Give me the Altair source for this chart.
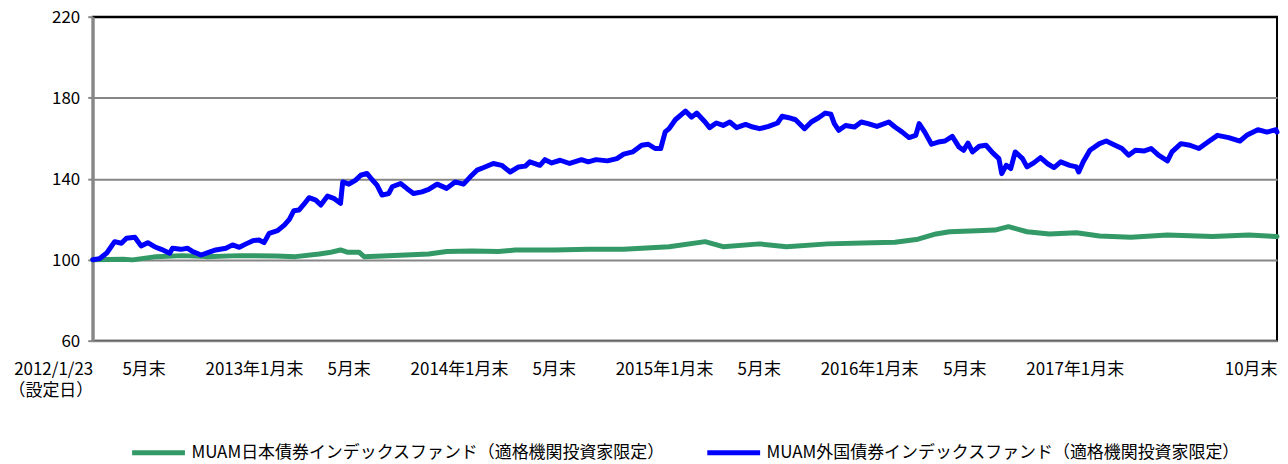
import json
import altair as alt
import pandas as pd

START = "2012-01-23"

# days since launch (2012/1/23) and index values
blue_days = [0, 12, 25, 39, 51, 60, 75, 86, 98, 110, 122, 137, 142, 157, 169, 178, 193, 205, 219, 237,
             249, 261, 273, 285, 296, 305, 314, 329, 341, 350, 358, 367, 376, 385, 397, 406, 418, 429, 441, 445,
             456, 468, 477, 488, 497, 506, 515, 527, 533, 548, 559, 571, 586, 598, 613, 630, 645, 660, 672, 684,
             696, 713, 728, 743, 758, 770, 778, 796, 805, 817, 832, 849, 870, 882, 896, 916, 933, 945, 961, 977,
             989, 1001, 1011, 1019, 1026, 1037, 1055, 1066, 1075, 1090, 1098, 1110, 1122, 1134, 1146, 1162, 1175, 1187, 1203, 1219,
             1227, 1239, 1251, 1267, 1279, 1292, 1304, 1314, 1320, 1328, 1340, 1356, 1368, 1380, 1396, 1417, 1428, 1441, 1453, 1465,
             1471, 1481, 1493, 1505, 1517, 1530, 1542, 1550, 1558, 1566, 1578, 1590, 1602, 1613, 1618, 1626, 1634, 1642, 1655, 1663,
             1675, 1687, 1699, 1711, 1723, 1739, 1751, 1755, 1763, 1775, 1792, 1804, 1816, 1832, 1844, 1856, 1872, 1884, 1897, 1913,
             1921, 1937, 1953, 1969, 1985, 2002, 2022, 2042, 2054, 2074, 2090, 2106, 2108]
blue_vals = [100.0, 100.5, 103.3, 108.9, 108.1, 110.6, 111.1, 106.8, 108.4, 106.4, 105.1, 103.2, 105.6, 105.1, 105.6, 104.0, 102.3, 103.5, 104.8, 105.6,
             107.3, 106.1, 107.8, 109.4, 109.7, 108.4, 113.0, 114.3, 117.1, 119.9, 124.2, 124.5, 127.4, 130.6, 129.4, 127.0, 131.4, 130.3, 127.8, 138.4,
             137.3, 139.3, 141.7, 142.6, 139.6, 136.8, 131.9, 132.7, 136.0, 137.6, 135.2, 132.7, 133.5, 134.7, 137.3, 135.2, 138.4, 137.3, 140.9, 144.2,
             145.5, 147.5, 146.6, 143.3, 145.8, 146.2, 148.3, 146.6, 149.4, 147.8, 149.1, 147.5, 149.4, 148.3, 149.4, 148.8, 149.9, 152.1, 153.2, 156.5,
             157.0, 154.9, 154.9, 163.1, 164.7, 169.1, 173.4, 170.4, 172.4, 168.0, 165.2, 167.5, 166.3, 168.0, 165.2, 166.8, 165.5, 164.7, 165.8, 167.5,
             170.8, 170.1, 169.1, 164.7, 168.0, 170.1, 172.4, 171.8, 167.2, 163.9, 166.3, 165.5, 168.0, 167.2, 165.8, 168.0, 165.5, 163.0, 160.3, 161.4,
             167.2, 163.0, 157.0, 158.1, 158.6, 160.9, 155.6, 154.0, 157.6, 153.2, 156.0, 156.5, 152.7, 149.9, 142.5, 146.6, 145.0, 153.2, 149.9, 145.8,
             147.8, 150.4, 147.5, 145.5, 148.3, 146.6, 145.8, 143.3, 148.3, 154.0, 157.3, 158.6, 157.0, 154.9, 151.6, 154.0, 153.7, 154.9, 151.6, 148.8,
             153.2, 157.3, 156.5, 154.9, 158.1, 161.4, 160.3, 158.6, 161.4, 164.2, 163.0, 164.2, 163.0]

green_days = [0, 54, 71, 113, 160, 202, 261, 326, 361, 403, 421, 441, 453, 474, 483, 515, 557, 598, 630, 675,
              722, 752, 823, 882, 945, 1026, 1090, 1122, 1187, 1235, 1308, 1388, 1428, 1469, 1501, 1525, 1574, 1606, 1630, 1663,
              1703, 1751, 1792, 1848, 1913, 1993, 2058, 2106, 2108]
green_vals = [100.0, 100.2, 99.9, 101.5, 102.0, 101.5, 102.0, 101.8, 101.5, 102.8, 103.5, 104.8, 103.7, 103.7, 101.5, 101.8, 102.3, 102.8, 104.0, 104.3,
              104.0, 104.8, 104.8, 105.1, 105.1, 106.4, 108.9, 106.4, 107.8, 106.4, 107.8, 108.4, 108.6, 110.1, 112.7, 113.8, 114.3, 114.6, 116.3, 113.8,
              112.7, 113.3, 111.7, 111.1, 112.2, 111.4, 112.2, 111.4, 111.4]

series_names = ["MUAM日本債券インデックスファンド（適格機関投資家限定）",
                "MUAM外国債券インデックスファンド（適格機関投資家限定）"]
series_colors = ["#339966", "#0000FF"]

tick_dates = [(2012, 1, 23), (2012, 5, 31), (2013, 1, 31), (2013, 5, 31), (2014, 1, 31), (2014, 5, 31),
              (2015, 1, 31), (2015, 5, 31), (2016, 1, 31), (2016, 5, 31), (2017, 1, 31), (2017, 10, 31)]
tick_labels = [["2012/1/23", "（設定日）"], "5月末", "2013年1月末", "5月末", "2014年1月末", "5月末",
               "2015年1月末", "5月末", "2016年1月末", "5月末", "2017年1月末", "10月末"]
y_ticks = [60, 100, 140, 180, 220]

start = pd.Timestamp(START)
frames = []
for name, days, vals in [(series_names[0], green_days, green_vals), (series_names[1], blue_days, blue_vals)]:
    d = start + pd.to_timedelta(days, unit="D")
    frames.append(pd.DataFrame({"date": d.strftime("%Y-%m-%dT00:00:00"), "value": vals, "series": name}))
df = pd.concat(frames, ignore_index=True)

FONT = "Noto Sans CJK JP"
GREY = "#868686"

label_map = {f"{y:04d}-{m:02d}-{d:02d}": lab for (y, m, d), lab in zip(tick_dates, tick_labels)}
label_expr = json.dumps(label_map, ensure_ascii=False) + "[timeFormat(datum.value, '%Y-%m-%d')]"
tick_vals = [alt.DateTime(year=y, month=m, date=d) for (y, m, d) in tick_dates]

chart = alt.Chart(df).mark_line(strokeWidth=5, strokeCap="round", strokeJoin="round").encode(
    x=alt.X("date:T",
            scale=alt.Scale(domain=[tick_vals[0], tick_vals[-1]], nice=False),
            axis=alt.Axis(values=tick_vals, labelExpr=label_expr, title=None, grid=False, domain=False,
                          ticks=False, tickSize=0, labelAlign="right", labelBaseline="top", labelPadding=21,
                          labelFont=FONT, labelFontSize=17, labelColor="black", labelLineHeight=21,
                          labelOverlap=False, labelFlush=False, labelBound=False)),
    y=alt.Y("value:Q",
            scale=alt.Scale(domain=[60, 220], nice=False, zero=False),
            axis=alt.Axis(values=y_ticks, title=None, grid=True,
                          gridColor={"condition": {"test": "datum.value === 220", "value": "black"}, "value": GREY},
                          gridWidth=2, domainColor=GREY, domainWidth=3, tickColor=GREY, tickWidth=2, tickSize=5,
                          labelFont=FONT, labelFontSize=17, labelPadding=8, labelOffset=1, labelColor="black")),
    color=alt.Color("series:N",
                    scale=alt.Scale(domain=series_names, range=series_colors),
                    legend=alt.Legend(title=None, orient="none", legendX=37, legendY=408.5, direction="horizontal",
                                      symbolType="stroke", symbolStrokeWidth=5, symbolSize=2809,
                                      labelFont=FONT, labelFontSize=17, labelColor="black", labelLimit=0,
                                      labelOffset=4, columnPadding=32, padding=0)),
).properties(
    width=1188, height=325, autosize="none",
    padding={"left": 85, "top": 8, "right": 3, "bottom": 121},
).configure_view(stroke="black", strokeWidth=2)

chart.save("out.html", embed_options={"renderer": "svg", "actions": False})
